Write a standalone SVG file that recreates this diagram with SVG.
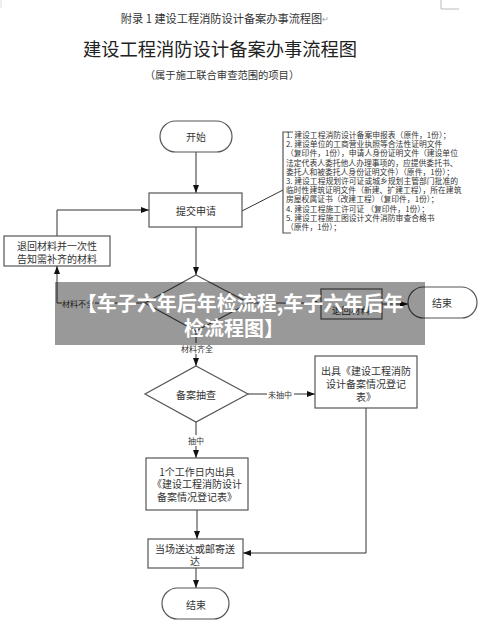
<svg xmlns="http://www.w3.org/2000/svg" width="482" height="628" viewBox="0 0 482 628">
<style>
text{font-family:"Noto Sans CJK SC","Noto Sans",sans-serif;fill:#333}
.t{font-size:10px;text-anchor:middle;dominant-baseline:central}
.lb{font-size:8px;text-anchor:middle;dominant-baseline:central}
.nt{font-size:7.8px}
.box{fill:#fff;stroke:#555;stroke-width:1.2}
.ln{fill:none;stroke:#333;stroke-width:1}
.bn{font-size:20px;font-weight:bold;fill:#fff;text-anchor:middle;dominant-baseline:central}
</style>
<defs>
<marker id="ar" markerWidth="9" markerHeight="7" refX="8" refY="3" orient="auto" markerUnits="userSpaceOnUse">
<path d="M0,0 L8,3 L0,6 z" fill="#111"/>
</marker>
</defs>
<rect width="482" height="628" fill="#fff"/>
<path d="M441,0 V9 H459" fill="none" stroke="#bbb" stroke-width="1"/>
<path d="M1,0 V8" fill="none" stroke="#ddd" stroke-width="1"/>
<g id="titles">
<text x="225" y="18" style="font-size:11.2px;text-anchor:middle;dominant-baseline:central">附录 1  建设工程消防设计备案办事流程图<tspan style="fill:#999;font-size:8px">↵</tspan></text>
<text x="220" y="48" style="font-size:18.3px;text-anchor:middle;dominant-baseline:central;fill:#222">建设工程消防设计备案办事流程图</text>
<text x="222" y="74" style="font-size:10.3px;text-anchor:middle;dominant-baseline:central">（属于施工联合审查范围的项目）</text>
</g>
<g id="connectors">
<path class="ln" d="M196,152 V193" marker-end="url(#ar)"/>
<path class="ln" d="M196,227 V275" marker-end="url(#ar)"/>
<path class="ln" d="M242,211 L283,190"/>
<path class="ln" d="M145,303 H57 V266" marker-end="url(#ar)"/>
<path class="ln" d="M57,236 V210 H149" marker-end="url(#ar)"/>
<path class="ln" d="M196,331 V366" marker-end="url(#ar)"/>
<path class="ln" d="M249,303 H321" marker-end="url(#ar)"/>
<path class="ln" d="M382,304 H408" marker-end="url(#ar)"/>
<path class="ln" d="M248,394 H315" marker-end="url(#ar)"/>
<path class="ln" d="M196,422 V458" marker-end="url(#ar)"/>
<path class="ln" d="M197,510 V539" marker-end="url(#ar)"/>
<path class="ln" d="M366,408 V553 H243" marker-end="url(#ar)"/>
<path class="ln" d="M196,568 V588" marker-end="url(#ar)"/>
<rect x="62" y="297" width="33" height="11" fill="#fff"/>
<text class="lb" x="78" y="303">材料不全</text>
<rect x="180" y="343" width="34" height="11" fill="#fff"/>
<text class="lb" x="197" y="348">材料齐全</text>
<rect x="267" y="388" width="27" height="11" fill="#fff"/>
<text class="lb" x="280" y="394">未抽中</text>
<rect x="187" y="435" width="19" height="11" fill="#fff"/>
<text class="lb" x="196" y="440">抽中</text>
</g>
<g id="start">
<rect class="box" x="160" y="121" width="72" height="31" rx="15.5"/>
<text class="t" x="196" y="136">开始</text>
</g>
<g id="submit">
<rect class="box" x="149" y="193" width="93" height="34"/>
<text class="t" x="196" y="210">提交申请</text>
</g>
<g id="note">
<path d="M293,132 H283 V233 H291" fill="none" stroke="#555" stroke-width="1.2"/>
<text class="nt" x="286" y="138"><tspan x="286" y="138">1. 建设工程消防设计备案申报表（原件，1份）；</tspan><tspan x="286" y="147.2">2. 建设单位的工商营业执照等合法性证明文件</tspan><tspan x="286" y="156.4">（复印件，1份），申请人身份证明文件（建设单位</tspan><tspan x="286" y="165.6">法定代表人委托他人办理事项的，应提供委托书、</tspan><tspan x="286" y="174.8">委托人和被委托人身份证明文件）（原件，1份）；</tspan><tspan x="286" y="184">3. 建设工程规划许可证或城乡规划主管部门批准的</tspan><tspan x="286" y="193.2">临时性建筑证明文件（新建、扩建工程），所在建筑</tspan><tspan x="286" y="202.4">房屋权属证书（改建工程）（复印件，1份）；</tspan><tspan x="286" y="211.6">4. 建设工程施工许可证  （复印件，1份）；</tspan><tspan x="286" y="220.8">5. 建设工程施工图设计文件消防审查合格书</tspan><tspan x="286" y="230">（原件，1份）；</tspan></text>
</g>
<g id="return">
<rect class="box" x="4" y="236" width="106" height="30"/>
<text class="t"><tspan x="57" y="244.5">退回材料并一次性</tspan><tspan x="57" y="257.5">告知需补齐的材料</tspan></text>
</g>
<g id="check1">
<polygon class="box" points="196,275 249,303 196,331 145,303"/>
</g>
<g id="return2">
<rect class="box" x="321" y="289" width="61" height="30"/>
<text class="t" x="351" y="310" style="font-size:9.5px">退回材料</text>
</g>
<g id="end1">
<rect class="box" x="408" y="287" width="69" height="31" rx="15.5"/>
<text class="t" x="442" y="302">结束</text>
</g>
<g id="sample">
<polygon class="box" points="196,366 248,394 196,422 145,394"/>
<text class="t" x="196" y="394">备案抽查</text>
</g>
<g id="issue">
<rect class="box" x="315" y="356" width="102" height="52"/>
<text class="t"><tspan x="366" y="369.5">出具《建设工程消防</tspan><tspan x="366" y="382.5">设计备案情况登记</tspan><tspan x="366" y="395.5">表》</tspan></text>
</g>
<g id="issue1day">
<rect class="box" x="146" y="458" width="102" height="52"/>
<text class="t"><tspan x="197" y="470.5">1个工作日内出具</tspan><tspan x="197" y="483">《建设工程消防设计</tspan><tspan x="197" y="495.5">备案情况登记表》</tspan></text>
</g>
<g id="deliver">
<rect class="box" x="148" y="539" width="95" height="29"/>
<text class="t"><tspan x="195" y="547.5">当场送达或邮寄送</tspan><tspan x="195" y="560">达</tspan></text>
</g>
<g id="end2">
<rect class="box" x="162" y="588" width="67" height="31" rx="15.5"/>
<text class="t" x="196" y="604">结束</text>
</g>
<g id="banner">
<rect x="55" y="282" width="370" height="63" fill="#000" fill-opacity="0.4"/>
<text class="bn"><tspan x="240" y="302">【车子六年后年检流程,车子六年后年</tspan><tspan x="234" y="327">检流程图】</tspan></text>
</g>
</svg>
